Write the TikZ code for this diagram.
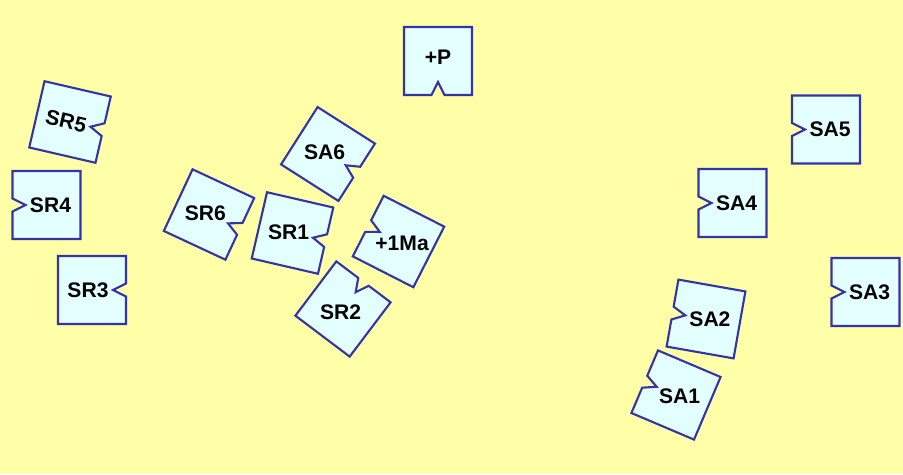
\documentclass[tikz,border=0pt]{standalone}
\usepackage{fontspec}
\setmainfont{Liberation Sans}
\usepackage{xcolor}
\usepackage{tikz}

\definecolor{paper}{HTML}{FFFFA8}
\definecolor{tilefill}{HTML}{E4FFFF}
\definecolor{tileedge}{HTML}{3434A8}

% [label opts]{name}{centre}{tilt}{notch side: 0 left, 90 bottom, 180 right, 270 top}{label}
\newcommand{\tile}[6][]{%
  \begin{scope}[shift={#3}, rotate=#4]
    \draw[tilebox, rotate=#5] (-34,34) -- (34,34) -- (34,-34) -- (-34,-34)
      -- (-34,-6.5) -- (-21,0) -- (-34,6.5) -- cycle;
    \path[rotate=#5] (4,0) node[lbl,#1] (#2) {#6};
  \end{scope}}

\begin{document}
\begin{tikzpicture}[
  x=0.02cm, y=0.02cm,
  tilebox/.style={draw=tileedge, fill=tilefill, line width=1.2pt},
  lbl/.style={font=\fontsize{12}{14}\selectfont\bfseries, inner sep=0pt},
]

\fill[paper] (0,0) rectangle (903,474);
\useasboundingbox (0,0) rectangle (903,474);

% left group
\tile[rotate=-13]{sr5}{(70,352)}{-13}{180}{SR5}
\tile{sr4}{(46.5,269)}{0}{0}{SR4}
\tile{sr3}{(92,184)}{0}{180}{SR3}

% middle group
\tile{p}{(438,413)}{0}{90}{+P}
\tile{sa6}{(328,320)}{-32.5}{180}{SA6}
\tile{sr6}{(209,259.5)}{-25}{180}{SR6}
\tile{sr1}{(292.5,241)}{-13}{180}{SR1}
\tile{ma}{(398.5,232.5)}{-27}{0}{+1Ma}
\tile{sr2}{(343,165)}{-37}{270}{SR2}

% right group
\tile{sa5}{(826,344.5)}{0}{0}{SA5}
\tile{sa4}{(732.5,271)}{0}{0}{SA4}
\tile{sa3}{(865.5,182)}{0}{0}{SA3}
\tile{sa2}{(706,155)}{-10}{0}{SA2}
\tile{sa1}{(676,79)}{-23}{0}{SA1}

\end{tikzpicture}
\end{document}
